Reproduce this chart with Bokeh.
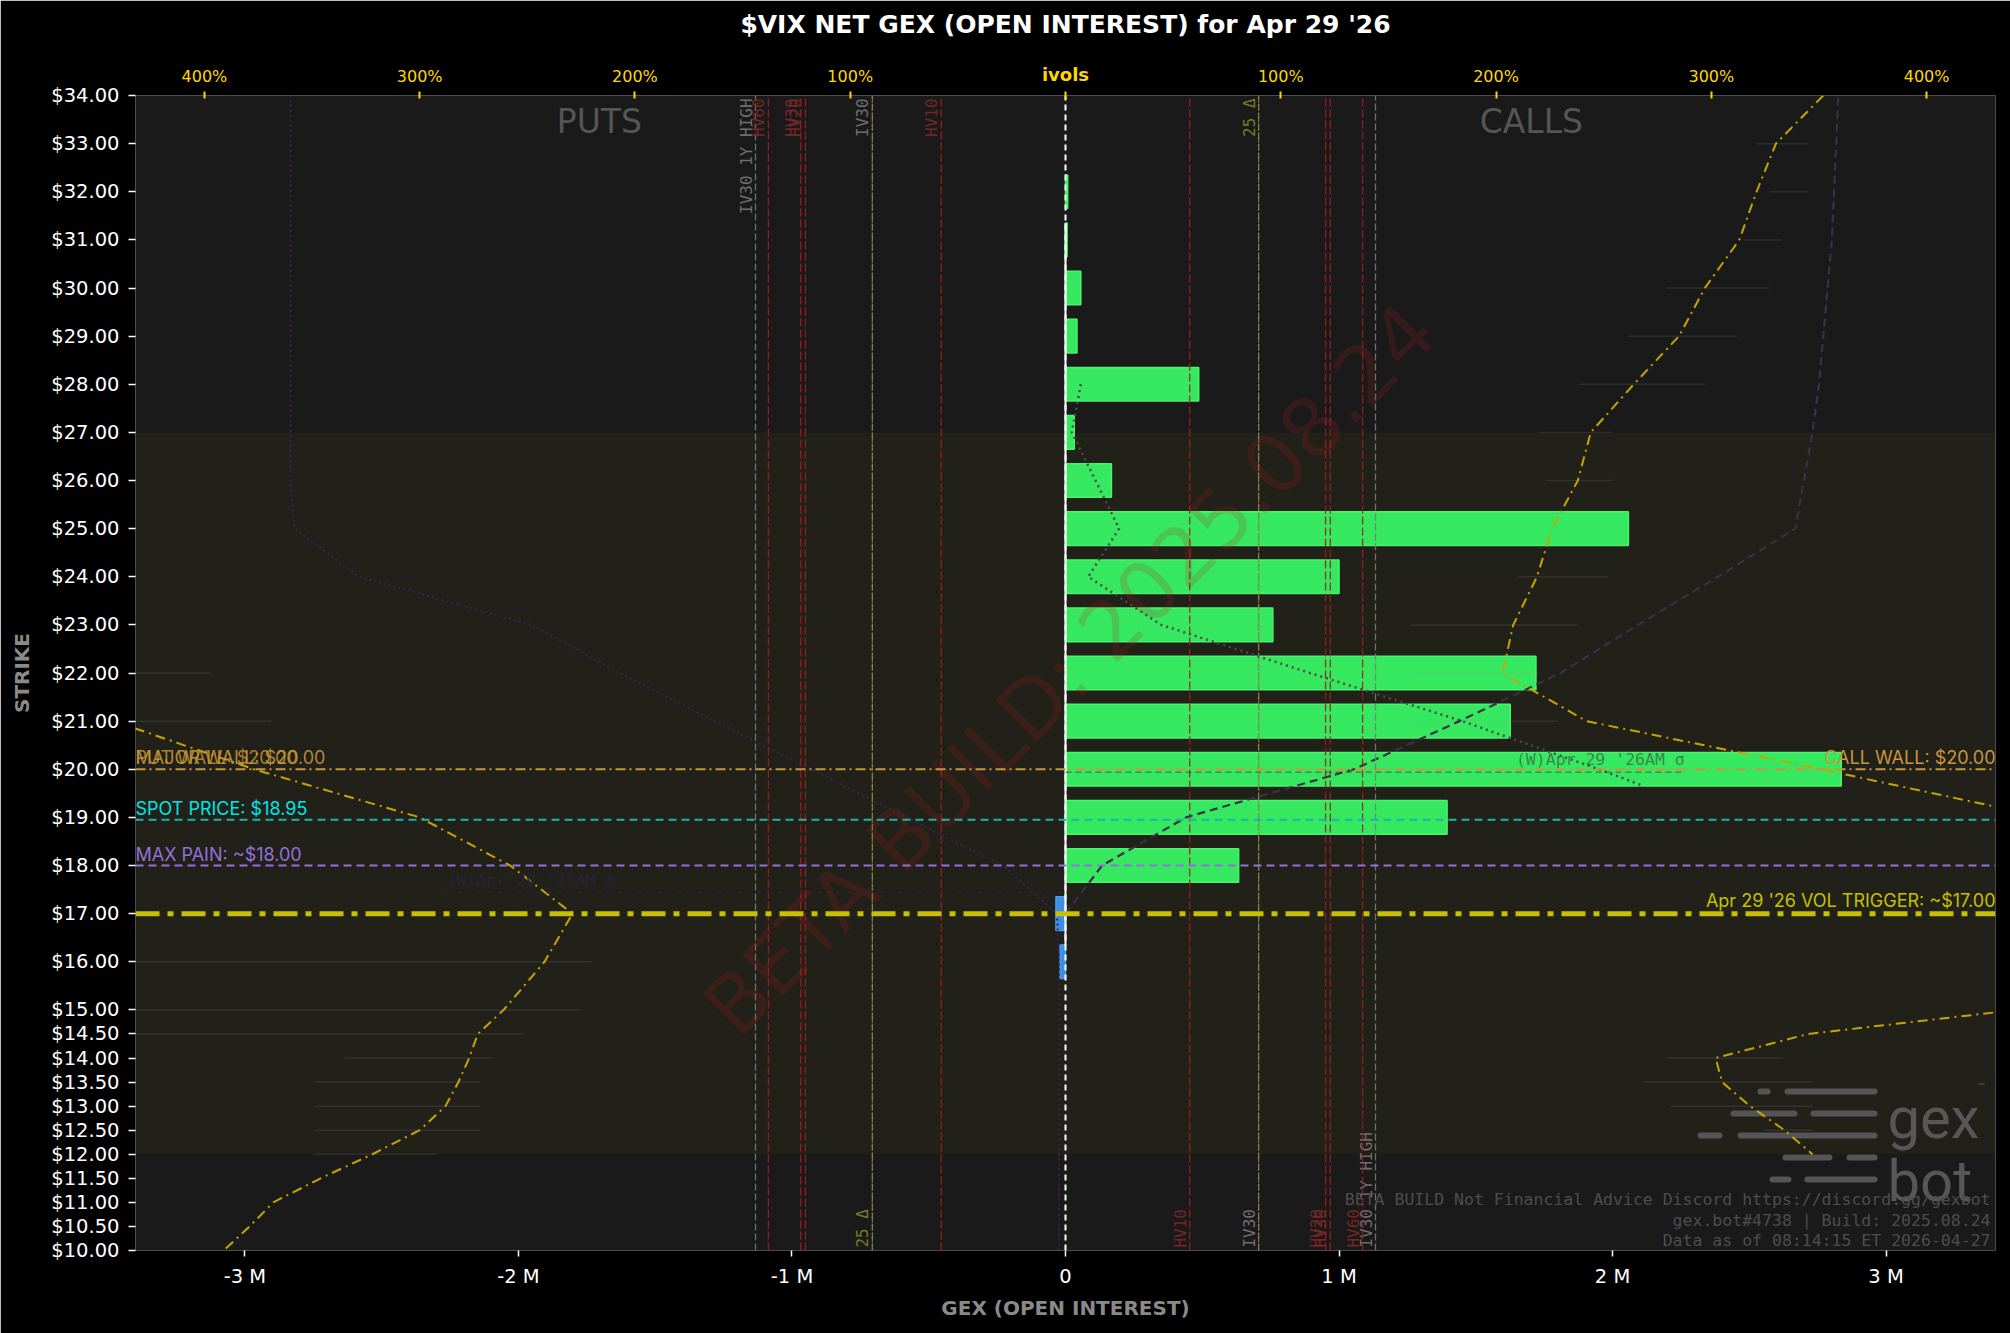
import math
from bokeh.plotting import figure
from bokeh.models import Range1d, LinearAxis, FixedTicker, PrintfTickFormatter, Span, BoxAnnotation
from bokeh.core.properties import value
from bokeh.embed import file_html
from bokeh.resources import INLINE

# ---------------- data ----------------
title_text = "$VIX NET GEX (OPEN INTEREST) for Apr 29 '26"

strikes = [32, 31, 30, 29, 28, 27, 26, 25, 24, 23, 22, 21, 20, 19, 18, 17, 16]
net_gex_m = [0.008, 0.006, 0.056, 0.042, 0.487, 0.032, 0.168, 2.058, 1.0, 0.758,
             1.72, 1.626, 2.836, 1.395, 0.633, -0.035, -0.020]

# implied vol by strike (percent, top axis)
put_iv_strikes = [21, 20, 19, 18, 17, 16, 15, 14.5, 14, 13.5, 13, 12.5, 12, 11.5, 11, 10.5, 10]
put_iv_pct = [442, 377, 300, 258, 229, 242, 261, 273, 277, 282, 288, 300, 322, 346, 368, 379, 391]
call_iv_strikes = [34, 33, 32, 31, 30, 29, 28, 27, 26, 25, 24, 23, 22, 21, 20, 19, 18, 17, 16, 15,
                   14.5, 14, 13.5, 13, 12.5, 12]
call_iv_pct = [352, 330, 321, 313, 297, 285, 264, 244, 238, 226, 219, 208, 203, 242, 351, 455,
               520, 560, 520, 442, 345, 302, 305, 318, 334, 347]

# faint iv range marks (percent)
put_rng_strikes = [22, 21, 16, 15, 14.5, 14, 13.5, 13, 12.5, 12]
put_rng_lo = [397, 369, 220, 225, 252, 266, 272, 272, 272, 292]
put_rng_hi = [445, 445, 445, 445, 445, 335, 349, 349, 349, 349]
call_rng_strikes = [33, 32, 31, 30, 29, 28, 27, 26, 24, 23, 22, 21, 14, 13.5, 13, 12.5]
call_rng_lo = [321, 327, 315, 279, 261, 238, 220, 223, 210, 160, 161, 161, 279, 268, 281, 325]
call_rng_hi = [345, 345, 333, 327, 312, 297, 254, 254, 252, 238, 220, 229, 333, 347, 347, 347]

# gamma profile (GEX millions)
profile_strikes = [28, 27, 26, 25, 24, 23, 22, 21, 20, 19.67]
profile_gex_m = [0.056, 0.023, 0.11, 0.196, 0.083, 0.35, 0.894, 1.45, 1.95, 2.105]

# cumulative curves (percent)
call_cum_strikes = [17, 18, 19, 20, 21, 22, 23, 24, 25, 26, 27, 28, 29, 30, 31, 32, 33, 34]
call_cum_pct = [0, 17, 56, 134, 183, 230, 266, 303, 339, 343, 347, 350, 352, 354, 356, 357, 358, 359]
put_cum_strikes = [10, 11, 12, 13, 14, 15, 16, 17, 18, 19, 20, 21, 22, 23, 24, 25, 26, 28, 30, 32, 34]
put_cum_pct = [3, 3, 3, 3, 3, 3, 3, 4, 29, 74, 118, 163, 207, 248, 328, 358, 360, 360, 360, 360, 360]

# vol markers (percent)
marker_names = ["IV30 1Y HIGH", "HV60", "HV30", "HV20", "IV30", "25 Δ", "HV10"]
marker_pct = [144, 138, 123, 120.8, 89.7, 89.7, 57.7]
marker_kind = ["iv", "hv", "hv", "hv", "iv", "delta", "hv"]

# levels
call_wall = 20.0
put_wall = 20.0
major_wall = 20.0
spot_price = 18.95
max_pain = 18.0
vol_trigger = 17.0
weekly_label = "(W)Apr 29 '26AM σ"
weekly_put_level, weekly_put_x = 17.44, -2.263
weekly_call_level, weekly_call_x = 19.94, 2.264
band_low, band_high = 12.0, 27.0

y_min, y_max = 10.0, 34.0
gex_min, gex_max = -3.4, 3.4
pct_min, pct_max = -432.0, 432.0
y_ticks = [10, 10.5, 11, 11.5, 12, 12.5, 13, 13.5, 14, 14.5, 15] + list(range(16, 35))
gex_ticks = [-3, -2, -1, 0, 1, 2, 3]
gex_tick_labels = ["-3 M", "-2 M", "-1 M", "0", "1 M", "2 M", "3 M"]
pct_ticks = [-400, -300, -200, -100, 0, 100, 200, 300, 400]
pct_tick_labels = ["400%", "300%", "200%", "100%", " ", "100%", "200%", "300%", "400%"]

info_lines = ["BETA BUILD Not Financial Advice Discord https://discord.gg/gexbot",
              "gex.bot#4738 | Build: 2025.08.24",
              "Data as of 08:14:15 ET 2026-04-27"]

# ---------------- geometry helpers (decorations only) ----------------
FL, FR, FT, FB = 135, 1995, 95, 1250
def px_x(px):
    return gex_min + (px - FL) / (FR - FL) * (gex_max - gex_min)
def px_y(py):
    return y_max - (py - FT) / (FB - FT) * (y_max - y_min)

# ---------------- figure ----------------
p = figure(width=2010, height=1333, output_backend="svg", toolbar_location=None,
           x_range=Range1d(gex_min, gex_max), y_range=Range1d(y_min, y_max),
           min_border_left=135, min_border_right=15, min_border_top=95, min_border_bottom=83,
           background_fill_color="#1a1a1a", border_fill_color="#000000",
           outline_line_color=None)
p.extra_x_ranges = {"pct": Range1d(pct_min, pct_max)}
p.grid.visible = False

xa = p.xaxis[0]
xa.ticker = FixedTicker(ticks=gex_ticks)
xa.major_label_overrides = dict(zip(gex_ticks, gex_tick_labels))
xa.axis_label = "GEX (OPEN INTEREST)"
ya = p.yaxis[0]
ya.ticker = FixedTicker(ticks=y_ticks)
ya.formatter = PrintfTickFormatter(format="$%.2f")
ya.axis_label = "STRIKE"
for ax in (xa, ya):
    ax.axis_line_color = None
    ax.major_tick_line_color = "white"
    ax.major_tick_line_width = 1.5
    ax.minor_tick_line_color = None
    ax.major_tick_in = 0
    ax.major_label_text_color = "white"
    ax.major_label_text_font = "DejaVu Sans"
    ax.major_label_text_font_size = "19.5px"
    ax.axis_label_text_color = "#8a8a8a"
    ax.axis_label_text_font = "DejaVu Sans"
    ax.axis_label_text_font_style = "bold"
    ax.axis_label_text_font_size = "20px"
xa.major_tick_out = 6
xa.major_label_standoff = 8
xa.axis_label_standoff = 5
ya.major_tick_out = 7
ya.major_label_standoff = 9
ya.axis_label_standoff = 14

top = LinearAxis(x_range_name="pct", ticker=FixedTicker(ticks=pct_ticks),
                 major_label_overrides=dict(zip(pct_ticks, pct_tick_labels)))
top.axis_line_color = None
top.major_tick_line_color = "#ffd700"
top.major_tick_line_width = 2
top.minor_tick_line_color = None
top.major_tick_in = 3
top.major_tick_out = 4
top.major_label_standoff = 6
top.major_label_text_color = "#ffd700"
top.major_label_text_font = "DejaVu Sans"
top.major_label_text_font_size = "16px"
top.axis_label = "ivols"
top.axis_label_text_color = "#ffd700"
top.axis_label_text_font = "DejaVu Sans"
top.axis_label_text_font_style = "bold"
top.axis_label_text_font_size = "18px"
top.axis_label_standoff = -21
p.add_layout(top, "above")

# chart title carried by an empty outer axis
title_axis = LinearAxis(x_range_name="pct", ticker=FixedTicker(ticks=[]), axis_label=title_text)
title_axis.axis_line_color = None
title_axis.major_tick_line_color = None
title_axis.minor_tick_line_color = None
title_axis.major_tick_out = 0
title_axis.major_tick_in = 0
title_axis.axis_label_text_color = "white"
title_axis.axis_label_text_font = "DejaVu Sans"
title_axis.axis_label_text_font_style = "bold"
title_axis.axis_label_text_font_size = "25px"
title_axis.axis_label_standoff = 22
p.add_layout(title_axis, "above")

# band
p.add_layout(BoxAnnotation(bottom=band_low, top=band_high, fill_color="#ffd700",
                           fill_alpha=0.03, line_color=None, level="underlay"))

# logo (decoration)
logo_rows = [1091, 1113, 1135, 1157, 1179]
logo_segs = [[(1757, 1770), (1784, 1877)], [(1730, 1797), (1810, 1877)],
             [(1697, 1722), (1737, 1877)], [(1782, 1832), (1846, 1877)],
             [(1769, 1791), (1804, 1877)]]
lx0, lx1, ly = [], [], []
for row, segs in zip(logo_rows, logo_segs):
    for a, b in segs:
        lx0.append(px_x(a + 3)); lx1.append(px_x(b - 3)); ly.append(px_y(row))
p.segment(x0=lx0, x1=lx1, y0=ly, y1=ly, line_color="#555555", line_width=6, line_cap="round")
p.text(x=[px_x(1887), px_x(1887)], y=[px_y(1117), px_y(1180)], text=["gex", "bot"],
       text_font=value("Roboto"), text_font_size="58px", text_color="#575757",
       text_baseline="alphabetic", text_align="left")
p.text(x=[px_x(1976)], y=[px_y(1086)], text=["™"], text_font=value("DejaVu Sans"),
       text_font_size="10px", text_color="#575757", text_baseline="middle")

# bars
bar_colors = ["#36e860" if v >= 0 else "#3a8ee3" for v in net_gex_m]
bar_edges = ["#45f56c" if v >= 0 else "#4a9cf0" for v in net_gex_m]
p.hbar(y=strikes, left=0, right=net_gex_m, height=0.7, fill_color=bar_colors,
       line_color=bar_edges, line_width=1.5)

# faint range marks
p.segment(x0=[-v for v in put_rng_lo], x1=[-v for v in put_rng_hi], y0=put_rng_strikes,
          y1=put_rng_strikes, x_range_name="pct", line_color="#999999", line_alpha=0.15,
          line_width=1.5)
p.segment(x0=call_rng_lo, x1=call_rng_hi, y0=call_rng_strikes, y1=call_rng_strikes,
          x_range_name="pct", line_color="#999999", line_alpha=0.15, line_width=1.5)

# cumulative curves
p.line(x=[-v for v in put_cum_pct], y=put_cum_strikes, x_range_name="pct",
       line_color="#3a2352", line_width=2, line_dash="2 3")
p.line(x=call_cum_pct, y=call_cum_strikes, x_range_name="pct",
       line_color="#3b3046", line_width=2.2, line_dash="8 5")

# zero line
p.segment(x0=[0], x1=[0], y0=[y_min], y1=[y_max], line_color="white", line_width=2, line_dash="6 4")
p.segment(x0=[0], x1=[0], y0=[16.35], y1=[31.35], line_color="white", line_width=2)

# vol markers
kind_line = {"iv": ("#7a7a7a", "7 3"), "hv": ("#9e1f1f", "8 3"), "delta": ("#8f8f1f", "2 2")}
kind_text = {"iv": "#6e6e6e", "hv": "#742626", "delta": "#7a7a1e"}
mfont = value("DejaVu Sans Mono")
for name, pct, kind in zip(marker_names, marker_pct, marker_kind):
    col, dash = kind_line[kind]
    p.segment(x0=[-pct, pct], x1=[-pct, pct], y0=[y_min, y_min], y1=[y_max, y_max],
              x_range_name="pct", line_color=col, line_width=1.3, line_dash=dash, line_alpha=0.9)
    if kind == "delta":
        p.text(x=[-pct], y=[y_min + 0.06], text=[name], angle=math.pi / 2, x_range_name="pct",
               text_align="left", text_baseline="bottom", text_color=kind_text[kind],
               text_font=mfont, text_font_size="16px")
        p.text(x=[pct], y=[y_max - 0.06], text=[name], angle=math.pi / 2, x_range_name="pct",
               text_align="right", text_baseline="bottom", text_color=kind_text[kind],
               text_font=mfont, text_font_size="16px")
    else:
        p.text(x=[-pct], y=[y_max - 0.06], text=[name], angle=math.pi / 2, x_range_name="pct",
               text_align="right", text_baseline="bottom", text_color=kind_text[kind],
               text_font=mfont, text_font_size="16px")
        p.text(x=[pct], y=[y_min + 0.06], text=[name], angle=math.pi / 2, x_range_name="pct",
               text_align="left", text_baseline="bottom", text_color=kind_text[kind],
               text_font=mfont, text_font_size="16px")

# gamma profile
p.line(x=profile_gex_m, y=profile_strikes, line_color="#4a4a4a", line_width=2.5, line_dash="2 4")

# iv curves
p.line(x=[-v for v in put_iv_pct], y=put_iv_strikes, x_range_name="pct",
       line_color="#c9a300", line_width=2, line_dash="10 5 2 5")
p.line(x=call_iv_pct, y=call_iv_strikes, x_range_name="pct",
       line_color="#c9a300", line_width=2, line_dash="10 5 2 5")

# weekly sigma markers
p.segment(x0=[weekly_put_x, 0], x1=[0, weekly_call_x], y0=[weekly_put_level, weekly_call_level],
          y1=[weekly_put_level, weekly_call_level], line_color=["#2c2236", "#404040"],
          line_alpha=[1.0, 0.55], line_width=1.5, line_dash="6 4")
p.text(x=[weekly_put_x], y=[weekly_put_level + 0.06], text=[weekly_label], text_color="#2c2236",
       text_font=mfont, text_font_size="16.5px", text_baseline="bottom", text_align="left")
p.text(x=[weekly_call_x], y=[weekly_call_level + 0.06], text=[weekly_label], text_color="#404040",
       text_alpha=0.6, text_font=mfont, text_font_size="16.5px", text_baseline="bottom",
       text_align="right")

# horizontal levels
wall_col = "#c8963c"
p.add_layout(Span(location=call_wall, dimension="width", line_color=wall_col,
                  line_width=2, line_dash="10 4 2 4"))
p.add_layout(Span(location=spot_price, dimension="width", line_color="#20b2aa",
                  line_width=2, line_dash="8 5"))
p.add_layout(Span(location=max_pain, dimension="width", line_color="#9370db",
                  line_width=2, line_dash="8 5"))
p.add_layout(Span(location=vol_trigger, dimension="width", line_color="#c8c000",
                  line_width=5, line_dash="24 8 6 8"))

lab_font = value("Inter")
lab_size = "18px"
p.text(x=[gex_min, gex_min], y=[put_wall + 0.02, major_wall + 0.02],
       text=[f"PUT WALL: ${put_wall:.2f}", f"MAJOR WALL: ${major_wall:.2f}"],
       text_color=["#b8902f", "#c8963c"], text_alpha=0.9, text_font=lab_font,
       text_font_size=lab_size, text_baseline="bottom", text_align="left")
p.text(x=[gex_max], y=[call_wall + 0.02], text=[f"CALL WALL: ${call_wall:.2f}"],
       text_color=wall_col, text_font=lab_font, text_font_size=lab_size,
       text_baseline="bottom", text_align="right")
p.text(x=[gex_min], y=[spot_price + 0.02], text=[f"SPOT PRICE: ${spot_price:.2f}"],
       text_color="#00e5e5", text_font=lab_font, text_font_size=lab_size, text_baseline="bottom")
p.text(x=[gex_min], y=[max_pain + 0.02], text=[f"MAX PAIN: ~${max_pain:.2f}"],
       text_color="#9370db", text_font=lab_font, text_font_size=lab_size, text_baseline="bottom")
p.text(x=[gex_max], y=[vol_trigger + 0.05], text=[f"Apr 29 '26 VOL TRIGGER: ~${vol_trigger:.2f}"],
       text_color="#c8c000", text_font=lab_font, text_font_size=lab_size,
       text_baseline="bottom", text_align="right")

# PUTS / CALLS
p.text(x=[-1.704, 1.703], y=[33.45, 33.45], text=["PUTS", "CALLS"], text_color="#555555",
       text_font=value("DejaVu Sans"), text_font_size="33px", text_align="center",
       text_baseline="middle")

# watermark
p.text(x=[0.016], y=[22.07], text=["BETA BUILD: 2025.08.24"], angle=math.radians(45),
       text_color="#b22222", text_alpha=0.18, text_font=value("DejaVu Sans"),
       text_font_size="81px", text_align="center", text_baseline="middle")

# info text
p.text(x=[px_x(1990)] * 3, y=[px_y(1199), px_y(1220), px_y(1240)], text=info_lines,
       text_color="#4d4d4d", text_font=mfont, text_font_size="16.5px",
       text_align="right", text_baseline="middle")

html = file_html(p, INLINE)
html = html.replace("<body>", '<body style="background-color:#000000;">', 1)
open("out.html", "w").write(html)
